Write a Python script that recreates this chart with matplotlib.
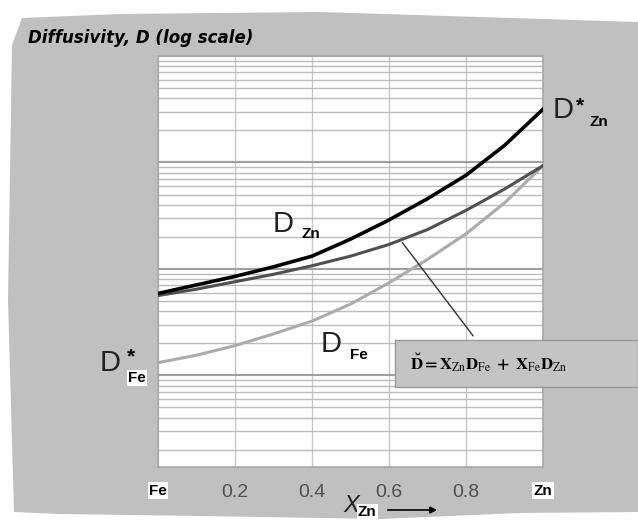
import numpy as np
import matplotlib
matplotlib.use("Agg")
import matplotlib.pyplot as plt
from matplotlib.patches import Polygon, Rectangle, FancyArrowPatch
from matplotlib.ticker import LogLocator, NullFormatter

plt.rcParams["font.family"] = ["Liberation Sans", "DejaVu Sans"]
plt.rcParams["mathtext.fontset"] = "stix"

# ── data (log10 of diffusivity, arbitrary units) ─────────────────────────────
x_zn         = [0.0, 0.1, 0.2, 0.3, 0.4, 0.5, 0.6, 0.7, 0.8, 0.9, 1.0]
log_dstar_zn = [1.77, 1.85, 1.93, 2.02, 2.12, 2.28, 2.46, 2.66, 2.88, 3.16, 3.50]
log_d_inter  = [1.75, 1.81, 1.88, 1.95, 2.03, 2.12, 2.23, 2.37, 2.55, 2.75, 2.97]
log_d_fe     = [1.12, 1.19, 1.28, 1.39, 1.51, 1.67, 1.87, 2.09, 2.33, 2.62, 2.97]
tick_pos    = [0.0, 0.2, 0.4, 0.6, 0.8, 1.0]
tick_labels = ["Fe", "0.2", "0.4", "0.6", "0.8", "Zn"]

W, H = 638, 522
fig = plt.figure(figsize=(W / 100, H / 100), dpi=100, facecolor="white")


def fx(px):
    return px / W


def fy(py):
    return 1 - py / H


# torn grey paper background
paper = [(12, 45), (22, 18), (120, 14), (320, 12), (638, 22), (638, 512),
         (520, 513), (380, 519), (200, 516), (60, 514), (14, 512), (8, 300)]
fig.patches.append(Polygon([(fx(a), fy(b)) for a, b in paper], closed=True,
                           transform=fig.transFigure, facecolor="#c0c0c0",
                           edgecolor="none", zorder=0))

ax = fig.add_axes([fx(158), fy(467), fx(543) - fx(158), fy(56) - fy(467)])
ax.set_zorder(1)
ax.set_facecolor("white")
ax.set_yscale("log")
ax.set_xlim(0, 1)
ax.set_ylim(10 ** 0.14, 10 ** 4.0)

ax.yaxis.set_major_locator(LogLocator(base=10))
ax.yaxis.set_minor_locator(LogLocator(base=10, subs=np.arange(2, 10)))
ax.yaxis.set_major_formatter(NullFormatter())
ax.yaxis.set_minor_formatter(NullFormatter())
ax.tick_params(axis="y", which="both", length=0)
ax.grid(axis="y", which="major", color="#a0a0a0", lw=1.5)
ax.grid(axis="y", which="minor", color="#bcbcbc", lw=1.0)
ax.set_xticks(tick_pos)
ax.grid(axis="x", color="#c8c8c8", lw=1.0)
ax.set_axisbelow(True)
for s in ax.spines.values():
    s.set_color("#a8a8a8")
    s.set_linewidth(1.2)

ax.set_xticklabels(tick_labels)
ax.tick_params(axis="x", length=0, pad=12, labelsize=14, labelcolor="#505050")
for lab in ax.get_xticklabels():
    if lab.get_text() in ("Fe", "Zn"):
        lab.set_fontweight("bold")
        lab.set_fontsize(11)
        lab.set_color("black")
        lab.set_bbox(dict(facecolor="white", edgecolor="none", pad=1))

xs = np.array(x_zn)
ax.plot(xs, 10 ** np.array(log_d_fe), color="#ababab", lw=2.2, zorder=3)
ax.plot(xs, 10 ** np.array(log_d_inter), color="#505050", lw=2.2, zorder=4)
ax.plot(xs, 10 ** np.array(log_dstar_zn), color="black", lw=2.6, zorder=5)

# pointer from the interdiffusion curve to the formula box
ax.annotate("", xy=(0.823, 10 ** 1.35), xytext=(0.63, 10 ** 2.27),
            arrowprops=dict(arrowstyle="-", color="#333333", lw=1.0))

fig.patches.append(Rectangle((fx(395), fy(387)), 1 - fx(395), fy(340) - fy(387),
                             transform=fig.transFigure, facecolor="#c4c4c4",
                             edgecolor="#9a9a9a", lw=1.0, zorder=5))
fig.text(fx(410), fy(363),
         r"$\mathbf{\breve{D} = X}_{\mathrm{Zn}}\mathbf{D}_{\mathrm{Fe}}"
         r"\mathbf{\ +\ X}_{\mathrm{Fe}}\mathbf{D}_{\mathrm{Zn}}$",
         fontsize=12, va="center", ha="left", zorder=6)


def dlabel(x, y, sub, sx, sy, star=None, subbox=False):
    fig.text(fx(x), fy(y), "D", fontsize=21, va="center", ha="left",
             color="#222222", zorder=6)
    if star is not None:
        fig.text(fx(star[0]), fy(star[1]), "*", fontsize=15, fontweight="bold",
                 va="center", ha="left", zorder=6)
    t = fig.text(fx(sx), fy(sy), sub, fontsize=11, fontweight="bold",
                 va="center", ha="left", zorder=6)
    if subbox:
        t.set_bbox(dict(facecolor="white", edgecolor="none", pad=1))


dlabel(553, 110, "Zn", 590, 122, star=(576, 106))
dlabel(273, 224, "Zn", 302, 234)
dlabel(321, 344, "Fe", 350, 355)
dlabel(100, 363, "Fe", 128, 378, star=(127, 357), subbox=True)

fig.text(fx(28), fy(38), "Diffusivity, D (log scale)", fontsize=12,
         fontweight="bold", style="italic", family="DejaVu Sans",
         va="center", ha="left")

# x axis label with arrow
fig.text(fx(343), fy(506), "X", fontsize=17, style="italic", va="center",
         ha="left", color="#222222", zorder=6)
fig.text(fx(358), fy(512), "Zn", fontsize=11, fontweight="bold", va="center",
         ha="left", zorder=6,
         bbox=dict(facecolor="white", edgecolor="none", pad=0.5))
fig.patches.append(FancyArrowPatch(
    (fx(385), fy(510)), (fx(440), fy(510)), transform=fig.transFigure,
    arrowstyle="-|>", mutation_scale=10, color="black", lw=1.2, zorder=6))

fig.savefig("out.png", dpi=100, facecolor="white")
